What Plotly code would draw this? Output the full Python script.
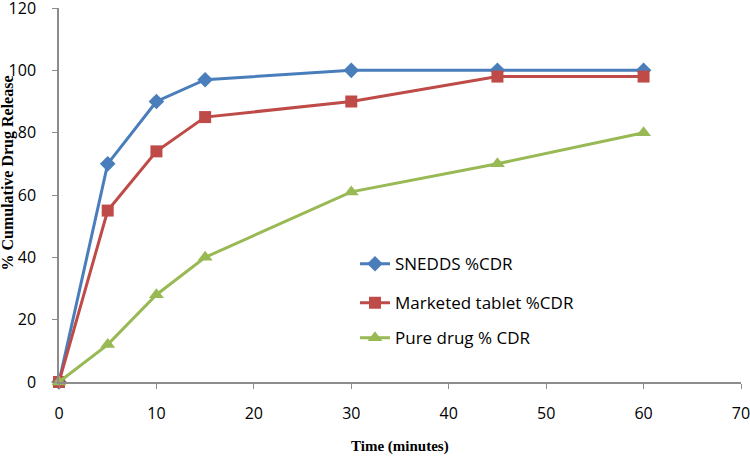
import plotly.graph_objects as go

time_min = [0, 5, 10, 15, 30, 45, 60]
snedds = [0, 70, 90, 97, 100, 100, 100]
marketed = [0, 55, 74, 85, 90, 98, 98]
pure = [0, 12, 28, 40, 61, 70, 80]

names = ["SNEDDS %CDR", "Marketed tablet %CDR", "Pure drug % CDR"]
colors = ["#4a7ebb", "#be4b48", "#98b954"]
symbols = ["diamond", "square", "triangle-up"]
sizes = [12, 12, 13]
series = [snedds, marketed, pure]
legends = ["legend", "legend2", "legend3"]

fig = go.Figure()
for s, n, c, sym, sz, lg in zip(series, names, colors, symbols, sizes, legends):
    fig.add_trace(go.Scatter(
        x=time_min, y=s, name=n, mode="lines+markers",
        line=dict(color=c, width=3),
        marker=dict(symbol=sym, size=sz, color=c),
        legend=lg, cliponaxis=False,
    ))

leg_font = dict(family="Open Sans, Noto Sans, sans-serif", size=17, color="#000")
leg_ys = [0.363, 0.259, 0.165]
layout_legends = {}
for lg, yy in zip(legends, leg_ys):
    layout_legends[lg] = dict(x=0.434, y=yy, xanchor="left", yanchor="top",
                              bgcolor="rgba(0,0,0,0)", font=leg_font,
                              borderwidth=0)

axis_font = dict(family="Open Sans, Noto Sans, sans-serif", size=16, color="#000")
title_font = "Liberation Serif, Times New Roman, serif"

fig.update_layout(
    width=750, height=459,
    margin=dict(l=59, r=9, t=8, b=77),
    paper_bgcolor="white", plot_bgcolor="white",
    showlegend=True,
    xaxis=dict(range=[0, 70], dtick=10, tick0=0, showgrid=False, zeroline=False,
               showline=True, linecolor="#8c8c8c", linewidth=1.5,
               ticks="outside", ticklen=5, tickcolor="#8c8c8c",
               tickfont=axis_font, automargin=False,
               ticklabeloverflow="allow", ticklabelstandoff=11),
    yaxis=dict(range=[0, 120], dtick=20, tick0=0, showgrid=False, zeroline=False,
               showline=True, linecolor="#8c8c8c", linewidth=1.5,
               ticks="outside", ticklen=5, tickcolor="#8c8c8c",
               tickfont=axis_font, automargin=False,
               ticklabeloverflow="allow", ticklabelstandoff=13),
    annotations=[
        dict(text="<b>Time (minutes)</b>", xref="paper", yref="paper",
             x=0.5, y=-0.173, xanchor="center", yanchor="middle", showarrow=False,
             font=dict(family=title_font, size=15, color="#000")),
        dict(text="<b>% Cumulative Drug Release</b>", xref="paper", yref="paper",
             x=-0.0748, y=0.56, xanchor="center", yanchor="middle", showarrow=False,
             textangle=-90,
             font=dict(family=title_font, size=16, color="#000")),
    ],
    **layout_legends,
)

fig.write_html("out.html", config={"displayModeBar": False},
               post_script="document.body.style.margin='0';")
